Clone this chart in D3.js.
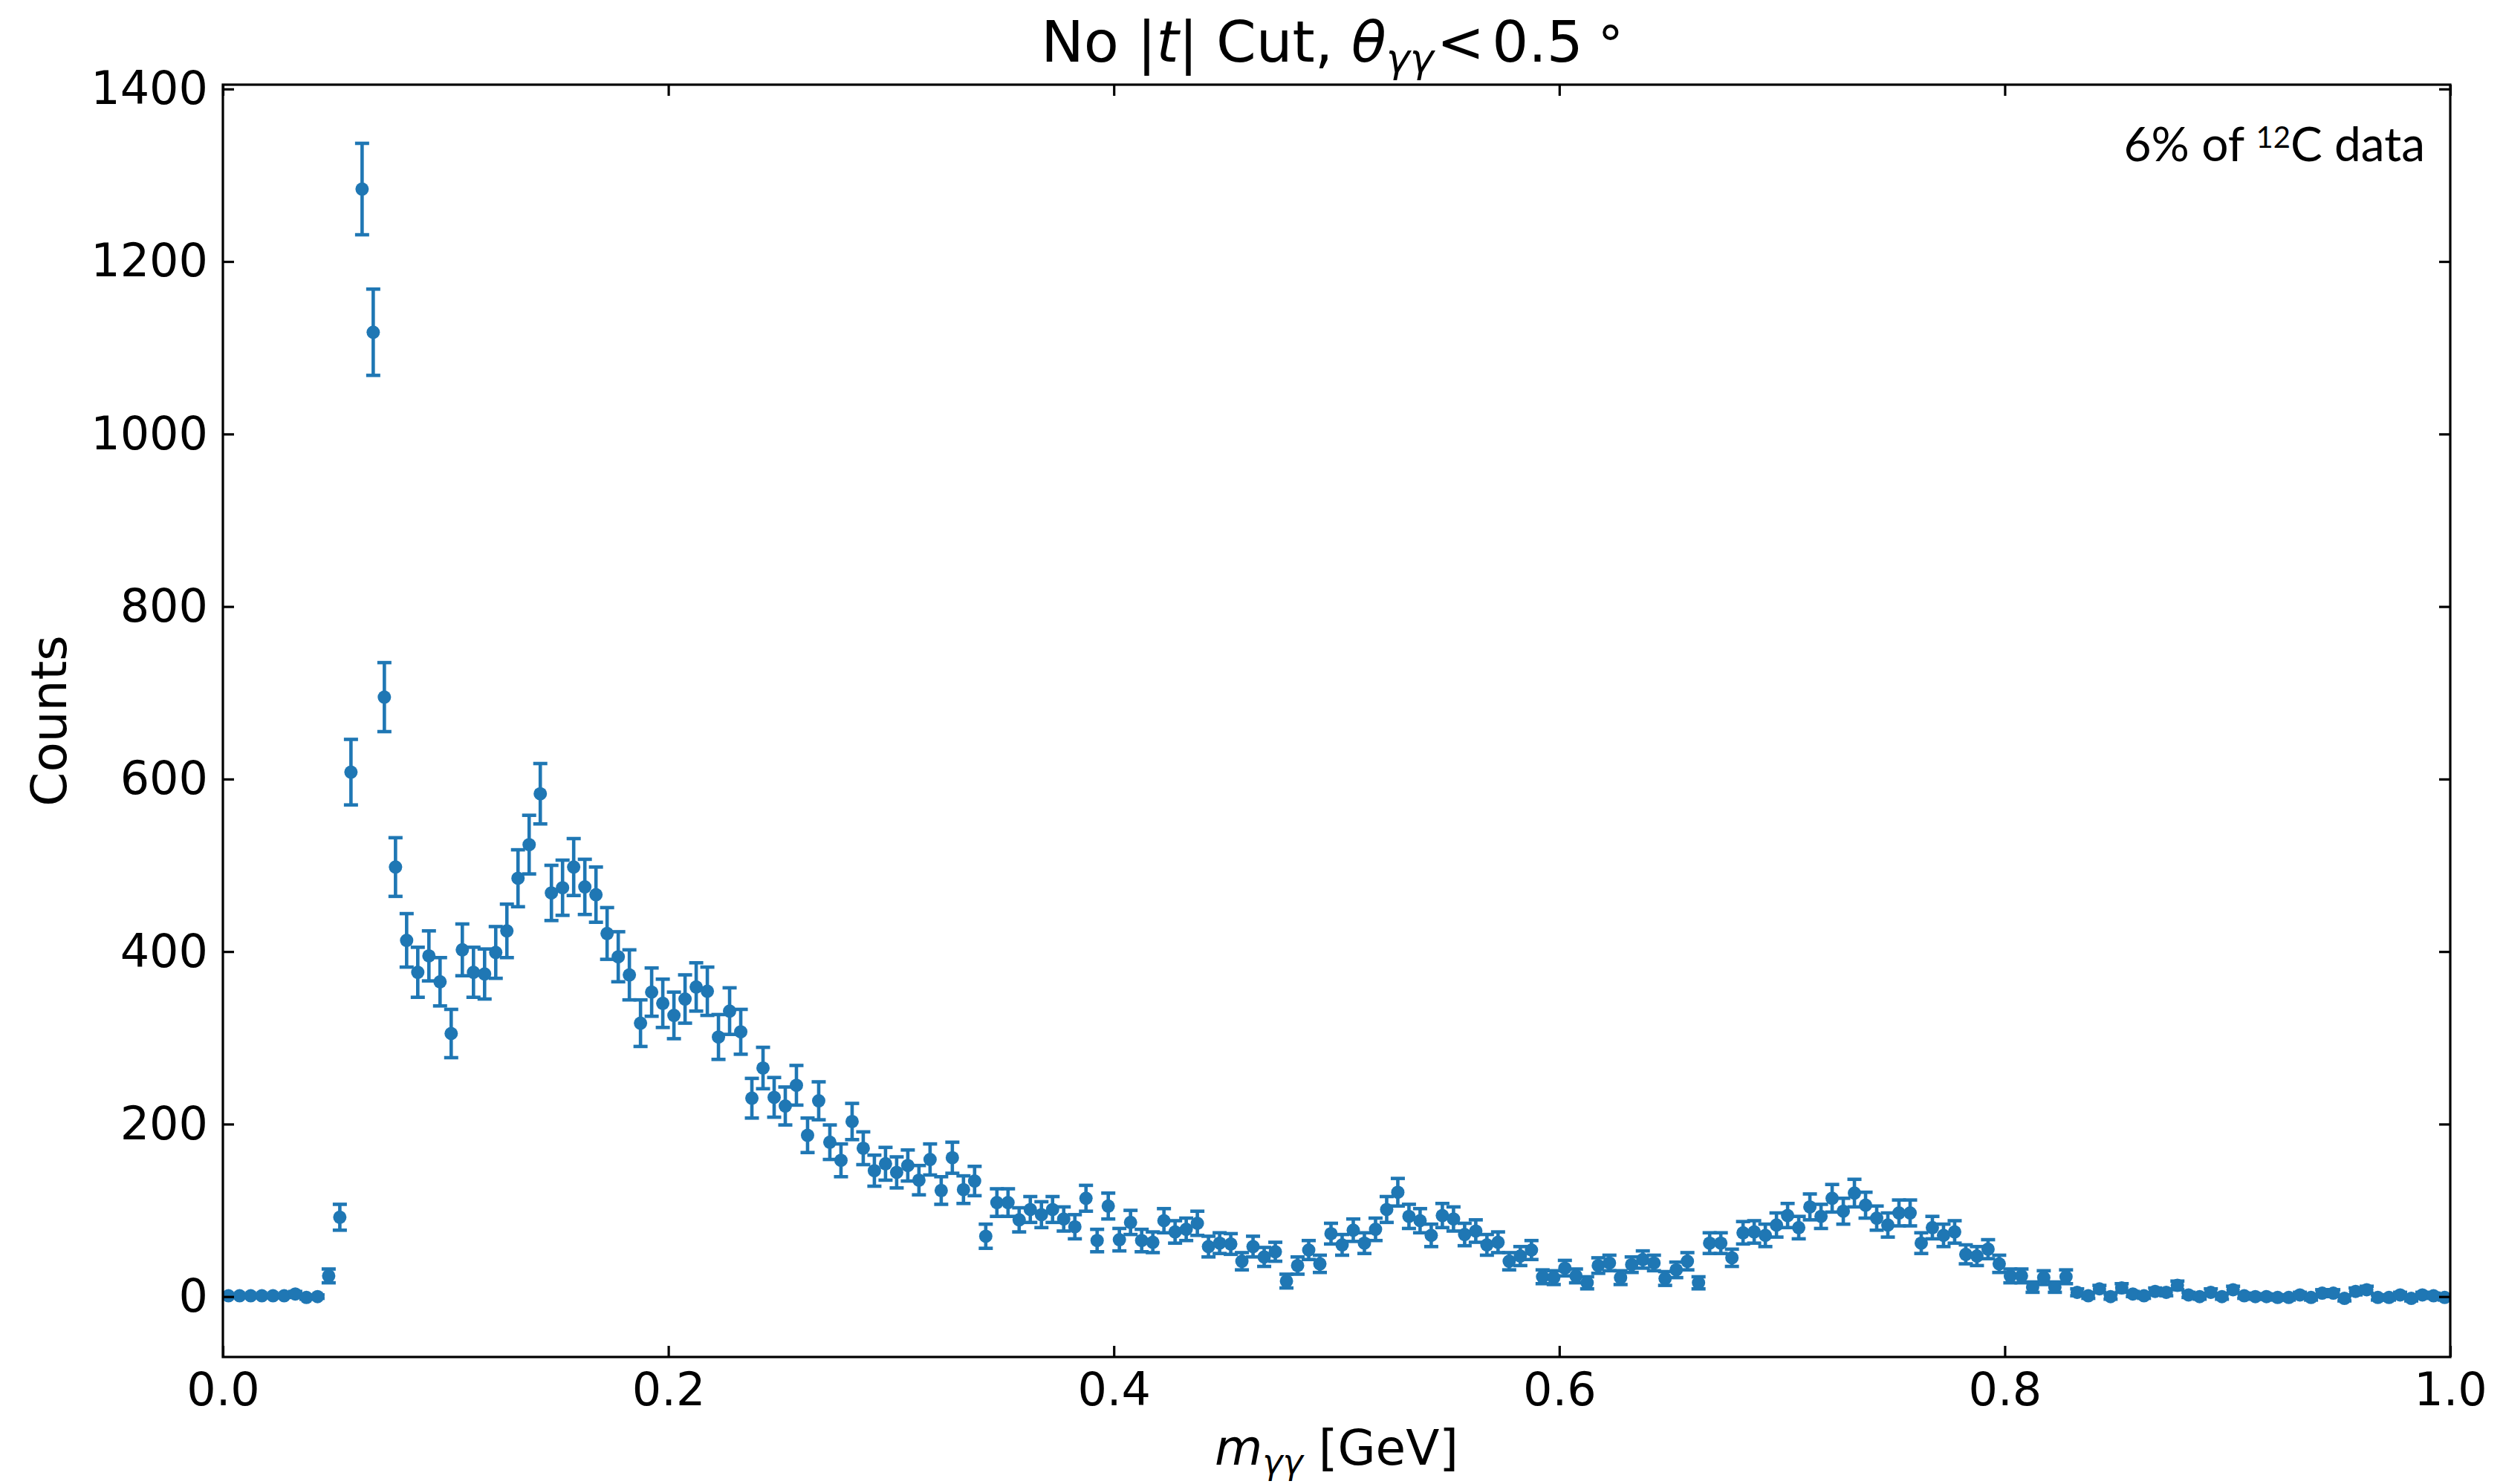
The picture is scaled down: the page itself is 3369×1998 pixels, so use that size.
<!DOCTYPE html>
<html><head><meta charset="utf-8">
<script src="https://cdn.jsdelivr.net/npm/d3@7"></script>
<style>body{margin:0;background:#fff}</style>
</head><body>
<svg id="c" width="3369" height="1998" xmlns="http://www.w3.org/2000/svg"></svg>
<script>
// ---- data ----
const binStart = 0.0;
const binWidth = 0.005;
const counts = [
  1,1,1,1,1,1,3,-1,0,24,
  92,608,1284,1118,695,498,413,376,395,365,
  305,402,376,374,399,424,485,524,583,468,
  474,498,475,466,421,394,373,317,353,340,
  326,345,359,354,301,331,307,230,265,231,
  221,245,187,227,179,158,203,172,146,154,
  144,152,135,159,123,161,124,134,70,109,
  109,89,101,95,101,90,81,114,65,105,
  66,86,65,63,88,75,78,85,58,62,
  61,41,58,46,52,18,36,54,38,73,
  60,77,62,78,101,121,93,88,71,94,
  90,72,76,60,63,41,47,54,23,22,
  33,24,16,36,39,22,37,43,39,21,
  31,41,16,62,62,45,74,75,71,83,
  94,80,104,93,114,99,120,106,91,83,
  97,97,62,80,71,75,49,47,55,38,
  24,24,11,22,11,23,5,1,9,0,
  10,3,1,6,5,13,2,0,5,0,
  8,1,0,0,-1,-1,2,-1,4,4,
  -2,6,8,-1,-1,2,-2,2,1,-1
];
const errors = [
  2,2,2,2,2,2,3,2,2,8,
  15,38,53,50,40,34,31,29,29,28,
  28,30,29,29,30,31,33,34,35,32,
  32,33,32,32,30,29,29,27,28,28,
  27,28,28,28,26,27,26,23,24,23,
  22,23,20,22,20,19,21,19,18,19,
  18,18,17,18,16,18,16,17,14,16,
  16,14,15,15,15,14,14,15,13,15,
  13,14,13,12,14,13,13,14,12,12,
  12,10,12,11,11,8,10,11,10,12,
  12,13,12,13,15,16,14,14,13,14,
  14,13,13,12,12,10,11,11,8,8,
  9,8,7,9,9,8,9,10,9,8,
  9,10,7,12,12,10,13,13,13,14,
  14,13,15,14,16,15,16,15,14,14,
  15,15,12,13,13,13,11,11,11,10,
  8,8,6,8,6,8,4,3,4,3,
  5,3,3,4,4,5,3,3,4,3,
  4,3,3,3,3,3,3,3,4,4,
  3,4,4,3,3,3,3,3,3,3
];
const xTicks = [0.0, 0.2, 0.4, 0.6, 0.8, 1.0];
const yTicks = [0, 200, 400, 600, 800, 1000, 1200, 1400];

const points = counts.map((c, i) => ({
  x: binStart + (i + 0.5) * binWidth, y: c, e: errors[i]
}));

// ---- layout ----
const W = 3369, H = 1998;
const L = 300, R = 3298, T = 114, B = 1827;
const color = "#1f77b4";
const font = "DejaVu Sans, Verdana, sans-serif";

const svg = d3.select("#c");
svg.append("rect").attr("width", W).attr("height", H).attr("fill", "#fff");

const x = d3.scaleLinear().domain([0, 1]).range([L, R]);
const y = d3.scaleLinear().domain([-70, 1405]).range([B, T]);

svg.append("defs").append("clipPath").attr("id", "plotclip")
  .append("rect").attr("x", L).attr("y", T).attr("width", R - L).attr("height", B - T);

// data
const g = svg.append("g").attr("clip-path", "url(#plotclip)");
const capHalf = 9.5, ew = 4.6;
g.selectAll("line.bar").data(points).join("line")
  .attr("class", "bar")
  .attr("x1", d => x(d.x)).attr("x2", d => x(d.x))
  .attr("y1", d => y(d.y - d.e)).attr("y2", d => y(d.y + d.e))
  .attr("stroke", color).attr("stroke-width", ew);
g.selectAll("line.capT").data(points).join("line")
  .attr("class", "capT")
  .attr("x1", d => x(d.x) - capHalf).attr("x2", d => x(d.x) + capHalf)
  .attr("y1", d => y(d.y + d.e)).attr("y2", d => y(d.y + d.e))
  .attr("stroke", color).attr("stroke-width", ew);
g.selectAll("line.capB").data(points).join("line")
  .attr("class", "capB")
  .attr("x1", d => x(d.x) - capHalf).attr("x2", d => x(d.x) + capHalf)
  .attr("y1", d => y(d.y - d.e)).attr("y2", d => y(d.y - d.e))
  .attr("stroke", color).attr("stroke-width", ew);
g.selectAll("circle").data(points).join("circle")
  .attr("cx", d => x(d.x)).attr("cy", d => y(d.y)).attr("r", 9)
  .attr("fill", color);

// axes
const tickLen = 15, sw = 3.2, tickFont = 62;
function styleAxis(sel) {
  sel.select(".domain").remove();
  sel.selectAll(".tick line").attr("stroke", "#000").attr("stroke-width", sw);
  sel.selectAll(".tick text").attr("font-family", font).attr("font-size", tickFont).attr("fill", "#000");
}
svg.append("g").attr("transform", `translate(0,${B})`)
  .call(d3.axisBottom(x).tickValues(xTicks).tickFormat(d3.format(".1f"))
    .tickSizeInner(-tickLen).tickSizeOuter(0).tickPadding(21))
  .call(styleAxis);
svg.append("g").attr("transform", `translate(0,${T})`)
  .call(d3.axisTop(x).tickValues(xTicks).tickFormat("")
    .tickSizeInner(-tickLen).tickSizeOuter(0))
  .call(styleAxis);
svg.append("g").attr("transform", `translate(${L},0)`)
  .call(d3.axisLeft(y).tickValues(yTicks).tickFormat(d3.format("d"))
    .tickSizeInner(-tickLen).tickSizeOuter(0).tickPadding(20))
  .call(styleAxis);
svg.append("g").attr("transform", `translate(${R},0)`)
  .call(d3.axisRight(y).tickValues(yTicks).tickFormat("")
    .tickSizeInner(-tickLen).tickSizeOuter(0))
  .call(styleAxis);

// frame
svg.append("rect").attr("x", L).attr("y", T).attr("width", R - L).attr("height", B - T)
  .attr("fill", "none").attr("stroke", "#000").attr("stroke-width", sw);

// title
const title = svg.append("text").attr("x", (L + R) / 2 - 6).attr("y", 83)
  .attr("text-anchor", "middle").attr("font-family", font).attr("font-size", 77).attr("fill", "#000");
title.append("tspan").text("No |");
title.append("tspan").attr("font-style", "italic").text("t");
title.append("tspan").text("| Cut, ");
title.append("tspan").attr("font-style", "italic").text("θ");
title.append("tspan").attr("font-style", "italic").attr("font-size", 54).attr("dy", 14).text("γγ");
title.append("tspan").attr("dy", -14).attr("dx", 4).text("<");
title.append("tspan").attr("dx", 10).text("0.5");
title.append("tspan").attr("font-size", 68).attr("dx", 20).text("°");

// x label
const xl = svg.append("text").attr("x", (L + R) / 2).attr("y", 1972)
  .attr("text-anchor", "middle").attr("font-family", font).attr("font-size", 66).attr("fill", "#000");
xl.append("tspan").attr("font-style", "italic").text("m");
xl.append("tspan").attr("font-style", "italic").attr("font-size", 46).attr("dy", 12).text("γγ");
xl.append("tspan").attr("dy", -12).text(" [GeV]");

// y label
svg.append("text").attr("transform", `translate(89,${(T + B) / 2}) rotate(-90)`)
  .attr("text-anchor", "middle").attr("font-family", font).attr("font-size", 66).attr("fill", "#000")
  .text("Counts");

// annotation
const ann = svg.append("text").attr("x", 3264).attr("y", 217)
  .attr("text-anchor", "end").attr("font-family", "Lato, 'Open Sans', sans-serif")
  .attr("font-weight", 400).attr("font-size", 64).attr("fill", "#000");
ann.append("tspan").text("6% of ");
ann.append("tspan").attr("font-size", 40).attr("dy", -18).text("12");
ann.append("tspan").attr("dy", 18).text("C data");
</script>
</body></html>
